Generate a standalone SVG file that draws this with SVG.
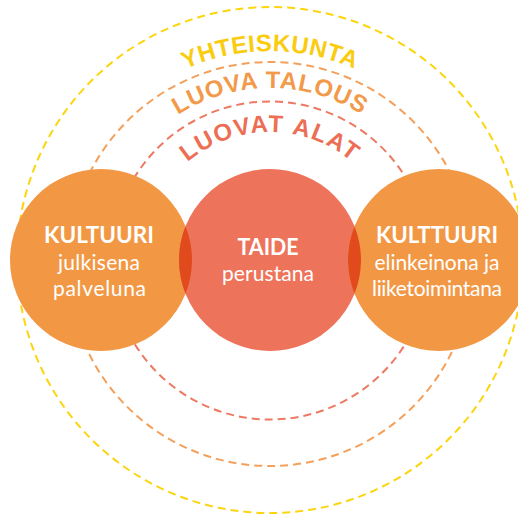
<svg xmlns="http://www.w3.org/2000/svg" width="518" height="517" viewBox="0 0 518 517">
<style>
.ring{fill:none;stroke-width:2;stroke-dasharray:8 5}
.arc{font-family:"Liberation Sans",Arial,sans-serif;font-weight:bold;font-size:24px}
.h{font-family:"Lato","Liberation Sans",sans-serif;font-weight:bold;font-size:22px;fill:#fff;text-anchor:middle}
.b{font-family:"Lato","Liberation Sans",sans-serif;font-size:21px;fill:#fff;text-anchor:middle}
</style>
<defs>
<path id="p1" d="M 61 260 A 209 209 0 0 1 479 260"/>
<path id="p2" d="M 98 260 A 172 172 0 0 1 442 260"/>
<path id="p3" d="M 142 260 A 128 128 0 0 1 398 260"/>
<clipPath id="cc"><circle cx="270" cy="260" r="91"/></clipPath>
</defs>
<g id="rings">
<circle class="ring" cx="270" cy="260" r="253" stroke="#fcd50f"/>
<circle class="ring" cx="270" cy="264" r="202" stroke="#f4a05a"/>
<circle class="ring" cx="270" cy="260.5" r="159" stroke="#ec7a62"/>
</g>
<g id="ring-labels">
<text class="arc" fill="#f9cc10" letter-spacing="0.5"><textPath href="#p1" startOffset="50%" text-anchor="middle">YHTEISKUNTA</textPath></text>
<text class="arc" fill="#f29a4a" letter-spacing="0.8"><textPath href="#p2" startOffset="50%" text-anchor="middle">LUOVA TALOUS</textPath></text>
<text class="arc" fill="#ec6f55" letter-spacing="1.5"><textPath href="#p3" startOffset="50%" text-anchor="middle">LUOVAT ALAT</textPath></text>
</g>
<g id="kulttuuri-julkinen">
<circle cx="101" cy="260" r="91" fill="#f29845"/>
</g>
<g id="taide">
<circle cx="270" cy="260" r="91" fill="#ed745b"/>
</g>
<g id="kulttuuri-elinkeino">
<circle cx="439" cy="260" r="91" fill="#f29845"/>
</g>
<g id="overlaps" clip-path="url(#cc)">
<circle cx="101" cy="260" r="91" fill="#e04a1c"/>
<circle cx="439" cy="260" r="91" fill="#e04a1c"/>
</g>
<g id="labels">
<text class="h" x="99" y="243" textLength="110" lengthAdjust="spacingAndGlyphs">KULTUURI</text>
<text class="b" x="99" y="270" textLength="82">julkisena</text>
<text class="b" x="99.5" y="296" textLength="93">palveluna</text>
<text class="h" x="268" y="255" textLength="61" lengthAdjust="spacingAndGlyphs">TAIDE</text>
<text class="b" x="268" y="281" textLength="92">perustana</text>
<text class="h" x="437" y="243" textLength="122" lengthAdjust="spacingAndGlyphs">KULTTUURI</text>
<text class="b" x="437" y="270" textLength="125">elinkeinona ja</text>
<text class="b" x="437" y="296" textLength="130">liiketoimintana</text>
</g>
</svg>
